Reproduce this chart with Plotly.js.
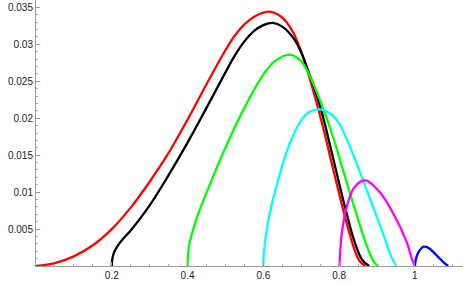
<!DOCTYPE html>
<html>
<head>
<meta charset="utf-8">
<script src="https://cdn.plot.ly/plotly-3.0.1.min.js"></script>
<style>html,body{margin:0;padding:0;background:#fff;}#chart{width:463px;height:286px;}</style>
</head>
<body>
<div id="chart"></div>
<script>
// Curve data
const redX = [0, 0.05, 0.1, 0.15, 0.2, 0.25, 0.3, 0.35, 0.4, 0.45, 0.5, 0.525, 0.55, 0.575, 0.6, 0.62, 0.64, 0.66, 0.68, 0.7, 0.72, 0.74, 0.76, 0.78, 0.8, 0.82, 0.84, 0.855, 0.87];
const redY = [0, 0.0004, 0.0013, 0.0028, 0.0050, 0.0079, 0.0114, 0.0153, 0.0198, 0.0246, 0.0292, 0.0312, 0.0327, 0.0337, 0.0343, 0.0344, 0.0340, 0.0331, 0.0315, 0.0290, 0.0258, 0.0222, 0.0183, 0.0140, 0.0098, 0.0058, 0.0023, 0.0006, 0];

const blackX = [0.2, 0.201, 0.205, 0.215, 0.23, 0.25, 0.3, 0.35, 0.4, 0.45, 0.5, 0.525, 0.55, 0.575, 0.6, 0.625, 0.65, 0.68, 0.7, 0.72, 0.74, 0.76, 0.78, 0.8, 0.82, 0.84, 0.86, 0.879];
const blackY = [0, 0.0008, 0.0017, 0.0027, 0.0037, 0.0048, 0.0082, 0.0123, 0.0167, 0.0214, 0.0262, 0.0285, 0.0304, 0.0318, 0.0326, 0.0329, 0.0324, 0.0308, 0.0289, 0.0262, 0.0233, 0.0197, 0.0155, 0.0112, 0.0071, 0.0034, 0.0009, 0];

const greenX = [0.4, 0.401, 0.405, 0.415, 0.43, 0.45, 0.5, 0.55, 0.6, 0.63, 0.67, 0.7, 0.72, 0.74, 0.76, 0.78, 0.8, 0.82, 0.84, 0.86, 0.88, 0.893, 0.903];
const greenY = [0, 0.0013, 0.0030, 0.0050, 0.0073, 0.0099, 0.0160, 0.0214, 0.0259, 0.0277, 0.0286, 0.0277, 0.0260, 0.0237, 0.0210, 0.0181, 0.0148, 0.0113, 0.0080, 0.0047, 0.0018, 0.0005, 0];

const cyanX = [0.6, 0.601, 0.604, 0.61, 0.62, 0.64, 0.66, 0.68, 0.7, 0.72, 0.75, 0.78, 0.8, 0.82, 0.84, 0.86, 0.88, 0.9, 0.92, 0.935, 0.951];
const cyanY = [0, 0.0015, 0.0030, 0.0052, 0.0078, 0.0118, 0.0152, 0.0178, 0.0197, 0.0208, 0.0212, 0.0205, 0.0193, 0.0172, 0.0147, 0.0120, 0.0093, 0.0066, 0.0038, 0.0016, 0];

const magentaX = [0.801, 0.803, 0.807, 0.820, 0.841, 0.870, 0.907, 0.943, 0.978, 0.992, 1.0];
const magentaY = [0, 0.0020, 0.0044, 0.0080, 0.0107, 0.0116, 0.0100, 0.0071, 0.0033, 0.0010, 0];

const blueX = [1.0, 1.003, 1.009, 1.022, 1.030, 1.040, 1.062, 1.078, 1.088];
const blueY = [0, 0.0010, 0.0018, 0.0026, 0.0026, 0.0023, 0.0012, 0.0004, 0];

const xTickVals = [0.2, 0.4, 0.6, 0.8, 1];
const xTickText = ["0.2", "0.4", "0.6", "0.8", "1"];
const yTickVals = [0.005, 0.01, 0.015, 0.02, 0.025, 0.03, 0.035];
const yTickText = ["0.005", "0.01", "0.015", "0.02", "0.025", "0.03", "0.035"];

const series = [
  {x: redX, y: redY, c: "#ff0000"},
  {x: blackX, y: blackY, c: "#000000"},
  {x: greenX, y: greenY, c: "#00ff00"},
  {x: cyanX, y: cyanY, c: "#00ffff"},
  {x: magentaX, y: magentaY, c: "#ff00ff"},
  {x: blueX, y: blueY, c: "#0000ff"}
];

const traces = series.map(s => ({
  x: s.x, y: s.y, type: "scatter", mode: "lines",
  line: {color: s.c, width: 2.3, shape: "spline", smoothing: 1, simplify: false},
  cliponaxis: false, hoverinfo: "skip", showlegend: false
}));

const tickFont = {family: "Liberation Sans, Arial, sans-serif", size: 10, color: "#222"};

const axisCommon = {
  showgrid: false, zeroline: false, showline: true,
  linecolor: "#999999", linewidth: 1,
  ticks: "inside", ticklen: 4, tickwidth: 1, tickcolor: "#999999",
  tickmode: "array", tickfont: tickFont
};

const layout = {
  width: 463, height: 286,
  margin: {l: 36, r: 0, t: 0, b: 20, pad: 0},
  paper_bgcolor: "#fff", plot_bgcolor: "#fff",
  font: tickFont,
  showlegend: false,
  xaxis: Object.assign({}, axisCommon, {
    range: [0, 1.127], tickvals: xTickVals, ticktext: xTickText,
    minor: {dtick: 0.05, tick0: 0, ticks: "inside", ticklen: 2, tickcolor: "#aaaaaa", showgrid: false}
  }),
  yaxis: Object.assign({}, axisCommon, {
    range: [0, 0.036], tickvals: yTickVals, ticktext: yTickText,
    minor: {dtick: 0.001, tick0: 0, ticks: "inside", ticklen: 2, tickcolor: "#aaaaaa", showgrid: false}
  })
};

Plotly.newPlot("chart", traces, layout, {staticPlot: true, displayModeBar: false});
</script>
</body>
</html>
